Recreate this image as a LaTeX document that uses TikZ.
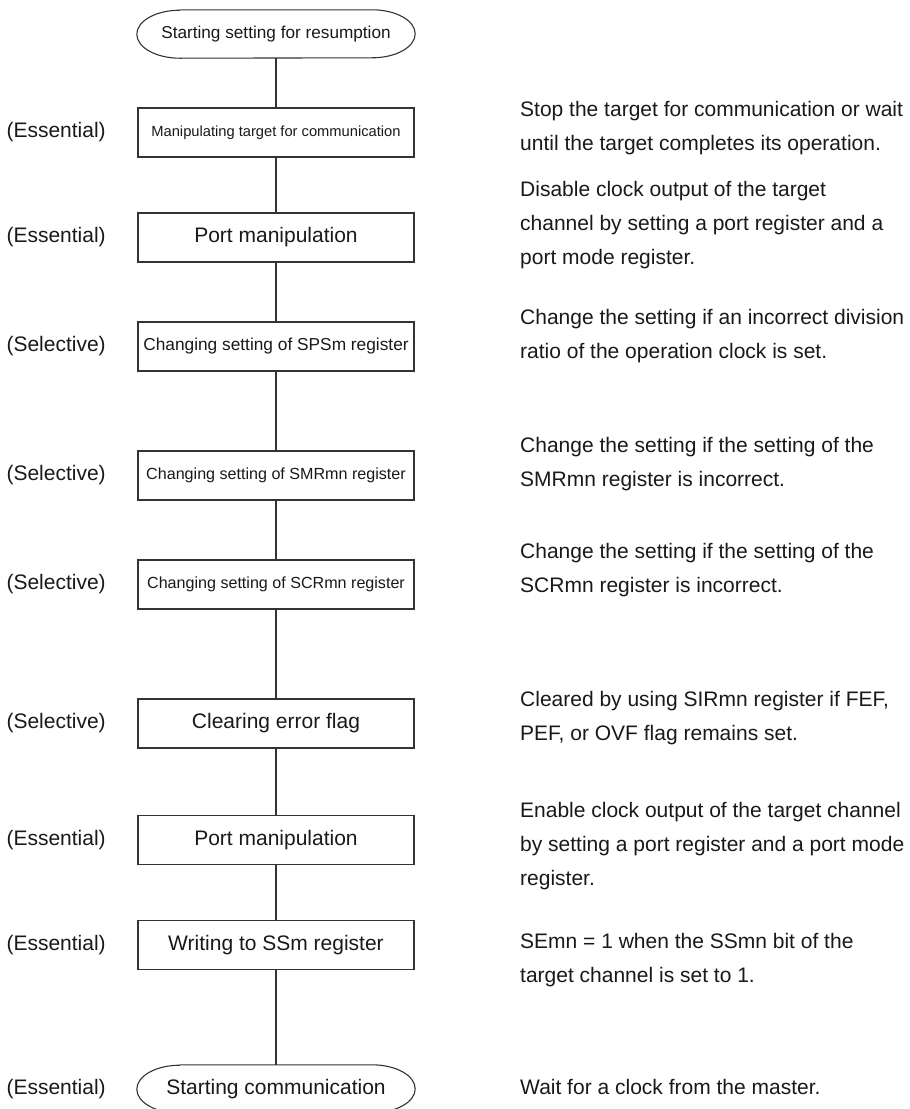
\documentclass[tikz,border=0pt]{standalone}
\usepackage{fontspec}
\setmainfont{Liberation Sans}
\usetikzlibrary{positioning}

\newcommand{\bigtext}{\fontsize{21}{34}\selectfont}
\newcommand{\termoutline}[1]{%
  \draw[conn] ([xshift=43pt]#1.north west) -- ([xshift=-43pt]#1.north east)
    arc[start angle=90, end angle=-90, x radius=43pt, y radius=24pt]
    -- ([xshift=43pt]#1.south west)
    arc[start angle=270, end angle=90, x radius=43pt, y radius=24pt];}

\begin{document}
\begin{tikzpicture}[
    x=1pt, y=-1pt,
    every node/.style={font=\bigtext, text=black!90},
    conn/.style={line width=1.1pt, draw=black!80},
    stepbox/.style={draw, conn, minimum width=276pt, minimum height=49pt, inner sep=0pt, align=center},
    term/.style={minimum width=278pt, minimum height=48pt, inner sep=0pt},
    tag/.style={anchor=west},
    note/.style={anchor=west, align=left, inner sep=0pt},
]
\useasboundingbox (0,0) rectangle (910,1109);

% flow
\node[term] (start) at (276,34) {\fontsize{17.2}{20}\selectfont Starting setting for resumption};
\node[stepbox] (target) at (276,132.5) {\fontsize{14.7}{18}\selectfont Manipulating target for communication};
\node[stepbox] (port1) at (276,237.5) {Port manipulation};
\node[stepbox] (sps) at (276,346.5) {\fontsize{17.3}{20}\selectfont Changing setting of SPSm register};
\node[stepbox] (smr) at (276,475.5) {\fontsize{16.1}{19}\selectfont Changing setting of SMRmn register};
\node[stepbox] (scr) at (276,584.5) {\fontsize{16.1}{19}\selectfont Changing setting of SCRmn register};
\node[stepbox] (clear) at (276,723.5) {Clearing error flag};
\node[stepbox] (port2) at (276,840) {Port manipulation};
\node[stepbox] (ssm) at (276,945) {Writing to SSm register};
\node[term] (comm) at (276,1089) {Starting communication};
\termoutline{start}
\termoutline{comm}

\draw[conn] (start) -- (target);
\draw[conn] (target) -- (port1);
\draw[conn] (port1) -- (sps);
\draw[conn] (sps) -- (smr);
\draw[conn] (smr) -- (scr);
\draw[conn] (scr) -- (clear);
\draw[conn] (clear) -- (port2);
\draw[conn] (port2) -- (ssm);
\draw[conn] (ssm) -- (comm);

% kind of each step
\node[tag] (t1) at (3,132.5) {(Essential)};
\node[tag] (t2) at (3,237.5) {(Essential)};
\node[tag] (t3) at (3,346.5) {(Selective)};
\node[tag] (t4) at (3,475.5) {(Selective)};
\node[tag] (t5) at (3,584.5) {(Selective)};
\node[tag] (t6) at (3,723.5) {(Selective)};
\node[tag] (t7) at (3,840) {(Essential)};
\node[tag] (t8) at (3,945) {(Essential)};
\node[tag] (t9) at (3,1089) {(Essential)};

% notes
\node[note] (n1) at (520,128) {Stop the target for communication or wait\\until the target completes its operation.};
\node[note] (n2) at (520,225) {Disable clock output of the target\\channel by setting a port register and a\\port mode register.};
\node[note] (n3) at (520,336) {Change the setting if an incorrect division\\ratio of the operation clock is set.};
\node[note] (n4) at (520,464) {Change the setting if the setting of the\\SMRmn register is incorrect.};
\node[note] (n5) at (520,570) {Change the setting if the setting of the\\SCRmn register is incorrect.};
\node[note] (n6) at (520,718) {Cleared by using SIRmn register if FEF,\\PEF, or OVF flag remains set.};
\node[note] (n7) at (520,846) {Enable clock output of the target channel\\by setting a port register and a port mode\\register.};
\node[note] (n8) at (520,960) {SEmn = 1 when the SSmn bit of the\\target channel is set to 1.};
\node[note] (n9) at (520,1087) {Wait for a clock from the master.};
\end{tikzpicture}
\end{document}
